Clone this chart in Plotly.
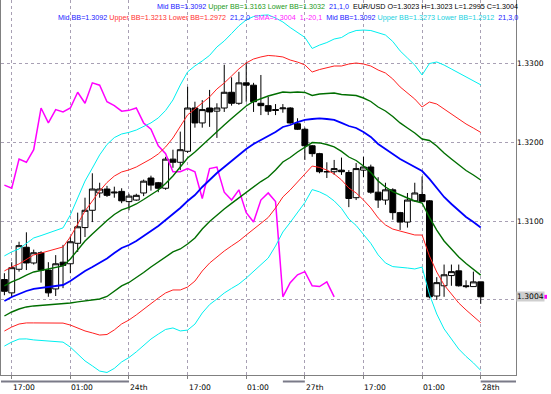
import plotly.graph_objects as go

# ---------------- data (EUR/USD, H1) ----------------
opens = [1.3026, 1.3009, 1.3039, 1.3067, 1.3047, 1.3060, 1.3038, 1.3014, 1.3048, 1.3046,
         1.3072, 1.3092, 1.3114, 1.3136, 1.3141, 1.3136, 1.3138, 1.3125, 1.3127, 1.3136,
         1.3155, 1.3149, 1.3142, 1.3179, 1.3175, 1.3189, 1.3244, 1.3225, 1.3244, 1.3240,
         1.3244, 1.3264, 1.3250, 1.3276, 1.3273, 1.3250, 1.3247, 1.3242, 1.3243, 1.3244,
         1.3224, 1.3217, 1.3196, 1.3186, 1.3163, 1.3163, 1.3165, 1.3162, 1.3130, 1.3165,
         1.3169, 1.3137, 1.3127, 1.3140, 1.3111, 1.3099, 1.3126, 1.3134, 1.3126, 1.3005,
         1.3018, 1.3031, 1.3037, 1.3018, 1.3017, 1.3023]
highs = [1.3034, 1.3048, 1.3074, 1.3086, 1.3064, 1.3062, 1.3048, 1.3057, 1.3070, 1.3081,
         1.3111, 1.3130, 1.3161, 1.3149, 1.3145, 1.3144, 1.3142, 1.3135, 1.3135, 1.3153,
         1.3158, 1.3150, 1.3182, 1.3191, 1.3214, 1.3271, 1.3252, 1.3254, 1.3267, 1.3250,
         1.3299, 1.3283, 1.3290, 1.3302, 1.3276, 1.3286, 1.3258, 1.3249, 1.3249, 1.3245,
         1.3231, 1.3219, 1.3197, 1.3187, 1.3175, 1.3178, 1.3181, 1.3165, 1.3174, 1.3182,
         1.3172, 1.3156, 1.3149, 1.3142, 1.3112, 1.3136, 1.3149, 1.3157, 1.3127, 1.3029,
         1.3045, 1.3045, 1.3045, 1.3025, 1.3036, 1.3023]
lows = [1.3006, 1.3004, 1.3036, 1.3038, 1.3045, 1.3022, 1.3004, 1.3005, 1.3015, 1.3034,
        1.3061, 1.3080, 1.3099, 1.3130, 1.3131, 1.3130, 1.3123, 1.3114, 1.3126, 1.3132,
        1.3139, 1.3137, 1.3140, 1.3168, 1.3165, 1.3187, 1.3219, 1.3219, 1.3220, 1.3206,
        1.3239, 1.3247, 1.3248, 1.3252, 1.3239, 1.3235, 1.3235, 1.3235, 1.3238, 1.3224,
        1.3216, 1.3178, 1.3182, 1.3161, 1.3155, 1.3159, 1.3159, 1.3118, 1.3127, 1.3156,
        1.3135, 1.3117, 1.3121, 1.3102, 1.3089, 1.3092, 1.3125, 1.3125, 1.3002, 1.3000,
        1.3004, 1.3018, 1.3017, 1.3015, 1.3017, 1.2995]
closes = [1.3011, 1.3041, 1.3069, 1.3047, 1.3060, 1.3038, 1.3009, 1.3046, 1.3044, 1.3074,
          1.3093, 1.3114, 1.3141, 1.3141, 1.3133, 1.3137, 1.3126, 1.3132, 1.3133, 1.3151,
          1.3146, 1.3142, 1.3179, 1.3175, 1.3191, 1.3244, 1.3225, 1.3242, 1.3239, 1.3244,
          1.3264, 1.3250, 1.3276, 1.3273, 1.3252, 1.3247, 1.3240, 1.3241, 1.3244, 1.3225,
          1.3217, 1.3196, 1.3186, 1.3163, 1.3163, 1.3167, 1.3163, 1.3129, 1.3167, 1.3169,
          1.3137, 1.3127, 1.3140, 1.3111, 1.3099, 1.3127, 1.3136, 1.3125, 1.3004, 1.3022,
          1.3032, 1.3036, 1.3018, 1.3017, 1.3023, 1.3004]

# Bollinger Bands (21): middle line and one standard deviation, read per bar
bb_mid = [1.29987, 1.30038, 1.30076, 1.30114, 1.30140, 1.30152, 1.30165, 1.30178, 1.30190, 1.30241,
          1.30305, 1.30368, 1.30419, 1.30470, 1.30527, 1.30597, 1.30661, 1.30699, 1.30750, 1.30813,
          1.30877, 1.30940, 1.31017, 1.31093, 1.31169, 1.31258, 1.31334, 1.31436, 1.31525, 1.31614,
          1.31690, 1.31767, 1.31843, 1.31919, 1.31983, 1.32033, 1.32078, 1.32135, 1.32199, 1.32224,
          1.32262, 1.32288, 1.32300, 1.32307, 1.32300, 1.32288, 1.32250, 1.32211, 1.32186, 1.32135,
          1.32072, 1.31983, 1.31919, 1.31855, 1.31792, 1.31741, 1.31690, 1.31639, 1.31538, 1.31423,
          1.31309, 1.31220, 1.31131, 1.31055, 1.30991, 1.30920]
bb_std = [0.00191, 0.00191, 0.00191, 0.00203, 0.00216, 0.00222, 0.00229, 0.00235, 0.00242, 0.00280,
          0.00330, 0.00381, 0.00419, 0.00458, 0.00483, 0.00489, 0.00483, 0.00477, 0.00470, 0.00464,
          0.00458, 0.00458, 0.00464, 0.00483, 0.00521, 0.00547, 0.00547, 0.00534, 0.00528, 0.00534,
          0.00534, 0.00540, 0.00547, 0.00547, 0.00540, 0.00528, 0.00515, 0.00483, 0.00445, 0.00413,
          0.00381, 0.00350, 0.00299, 0.00311, 0.00324, 0.00343, 0.00362, 0.00394, 0.00413, 0.00432,
          0.00451, 0.00470, 0.00483, 0.00477, 0.00458, 0.00445, 0.00432, 0.00407, 0.00489, 0.00534,
          0.00559, 0.00572, 0.00585, 0.00591, 0.00597, 0.00605]

sma_shift = -20          # SMA(1) drawn 20 bars back
band_devs = [1, 2, 3]

time_tick_bars = [1, 9, 17, 25, 33, 41, 49, 57, 65]
time_tick_labels = ["17:00", "01:00", "24th", "17:00", "01:00", "27th", "17:00", "01:00", "28th"]
price_ticks = [1.30, 1.31, 1.32, 1.33]
price_tick_labels = ["", "1.3100", "1.3200", "1.3300"]
last_price = 1.3004
day_bar_spans = [(-0.5, 17), (38, 41), (65, 71)]

# ---------------- styling ----------------
band_colors = {1: "#006e00", 2: "#ff2020", 3: "#00f0f0"}
band_widths = {1: 1.4, 2: 1.0, 3: 1.0}
GRID = "#a8a0b4"
AX_FONT = dict(family="DejaVu Sans", size=7.6, color="black")
LEG_FONT = dict(family="Liberation Sans", size=7.2, color="black")

W, H = 551, 394
ML, MR, MT, MB = 1, 35, 0, 19
PW = W - ML - MR
PH = H - MT - MB

bars = list(range(len(closes)))

fig = go.Figure()

fig.add_trace(go.Candlestick(
    x=bars, open=opens, high=highs, low=lows, close=closes,
    increasing=dict(line=dict(color="black", width=1), fillcolor="white"),
    decreasing=dict(line=dict(color="black", width=1), fillcolor="black"),
    whiskerwidth=0, showlegend=False, hoverinfo="skip"))

# SMA(1) shifted
sx = [b + sma_shift for b in bars if b + sma_shift >= 0]
sy = [closes[b] for b in bars if b + sma_shift >= 0]
fig.add_trace(go.Scatter(x=sx, y=sy, mode="lines",
                         line=dict(color="#ff00ff", width=1.5), hoverinfo="skip"))

for k in sorted(band_devs, reverse=True):
    up = [m + k * s for m, s in zip(bb_mid, bb_std)]
    dn = [m - k * s for m, s in zip(bb_mid, bb_std)]
    for series in (up, dn):
        fig.add_trace(go.Scatter(x=bars, y=series, mode="lines",
                                 line=dict(color=band_colors[k], width=band_widths[k]),
                                 hoverinfo="skip"))

fig.add_trace(go.Scatter(x=bars, y=bb_mid, mode="lines",
                         line=dict(color="#0000ff", width=1.8), hoverinfo="skip"))

# ---------------- axes ----------------
px_per_bar = 7.328
x0_px = 4.4 - ML
x_lo = -x0_px / px_per_bar
x_hi = x_lo + PW / px_per_bar

fig.update_xaxes(range=[x_lo, x_hi], tickvals=time_tick_bars, showticklabels=False,
                 showgrid=True, gridcolor=GRID, griddash="dot", gridwidth=1,
                 ticks="outside", ticklen=3, tickcolor="#808080",
                 showline=True, linecolor="#808080", linewidth=1, automargin=False,
                 zeroline=False, rangeslider=dict(visible=False), fixedrange=True)
fig.update_yaxes(range=[1.29046, 1.33813], side="right", tickvals=price_ticks,
                 showticklabels=False, automargin=False,
                 showgrid=True, gridcolor=GRID, griddash="dot", gridwidth=1,
                 ticks="", showline=True, linecolor="#808080", linewidth=1,
                 mirror=True, zeroline=False, fixedrange=True)

annotations = []
for b, lab in zip(time_tick_bars, time_tick_labels):
    annotations.append(dict(x=b, y=-12 / PH, xref="x", yref="paper", text=lab,
                            showarrow=False, xanchor="left", yanchor="middle",
                            font=AX_FONT, xshift=-1))

for v, lab in zip(price_ticks, price_tick_labels):
    if lab:
        annotations.append(dict(x=1, y=v, xref="paper", yref="y", text=lab,
                                showarrow=False, xanchor="left", yanchor="middle",
                                font=AX_FONT, xshift=0, borderpad=0))

annotations.append(dict(x=1, y=last_price, xref="paper", yref="y", text="1.3004",
                        showarrow=False, xanchor="left", yanchor="middle",
                        bgcolor="#cfcfcf", font=AX_FONT, xshift=0, borderpad=0))

BLUE_T, GREEN_T, RED_T, CYAN_T, MAG_T = "#2020ff", "#229922", "#ff3030", "#20d0e0", "#ff20ff"
nb = "\u00a0"
def sp(color, txt):
    return f"<span style='color:{color}'>{txt}</span>"

line1 = (sp(BLUE_T, "Mid BB=1.3092") + nb + sp(GREEN_T, "Upper BB=1.3163 Lower BB=1.3032")
         + nb * 2 + sp(BLUE_T, "21,1,0") + nb * 2
         + sp("#000000", "EUR/USD O=1.3023 H=1.3023 L=1.2995 C=1.3004"))
line2 = (sp(BLUE_T, "Mid BB=1.3092") + nb + sp(RED_T, "Upper BB=1.3213 Lower BB=1.2972")
         + nb * 2 + sp(BLUE_T, "21,2,0") + nb * 2 + sp(MAG_T, "SMA=1.3004") + nb * 2
         + sp(MAG_T, "1,-20,1") + nb * 2 + sp(BLUE_T, "Mid BB=1.3092") + nb
         + sp(CYAN_T, "Upper BB=1.3273 Lower BB=1.2912") + nb * 2 + sp(BLUE_T, "21,3,0"))

right_px = 520
annotations.append(dict(x=(right_px - ML) / PW, y=1 - 6 / PH, xref="paper", yref="paper",
                        text=line1, showarrow=False, xanchor="right", yanchor="middle",
                        font=LEG_FONT))
annotations.append(dict(x=(right_px - ML) / PW, y=1 - 17 / PH, xref="paper", yref="paper",
                        text=line2, showarrow=False, xanchor="right", yanchor="middle",
                        font=LEG_FONT))

shapes = []
for a, b in day_bar_spans:
    shapes.append(dict(type="line", xref="x", yref="paper", x0=a, x1=b,
                       y0=-6.5 / PH, y1=-6.5 / PH, line=dict(color="#7a7a88", width=2)))
# small magenta marker beside the current price label (SMA value tag)
shapes.append(dict(type="rect", xref="paper", yref="y", x0=(544 - ML) / PW, x1=(547 - ML) / PW,
                   y0=last_price - 0.00025, y1=last_price + 0.00025,
                   line=dict(width=0), fillcolor="#ff00ff"))

fig.update_layout(width=W, height=H, margin=dict(l=ML, r=MR, t=MT, b=MB, pad=0),
                  paper_bgcolor="white", plot_bgcolor="white", showlegend=False,
                  annotations=annotations, shapes=shapes, boxgap=0.2, boxgroupgap=0)

fig.write_html("out.html", config={"displayModeBar": False, "staticPlot": True},
               post_script="document.body.style.margin='0';document.body.style.overflow='hidden';")
